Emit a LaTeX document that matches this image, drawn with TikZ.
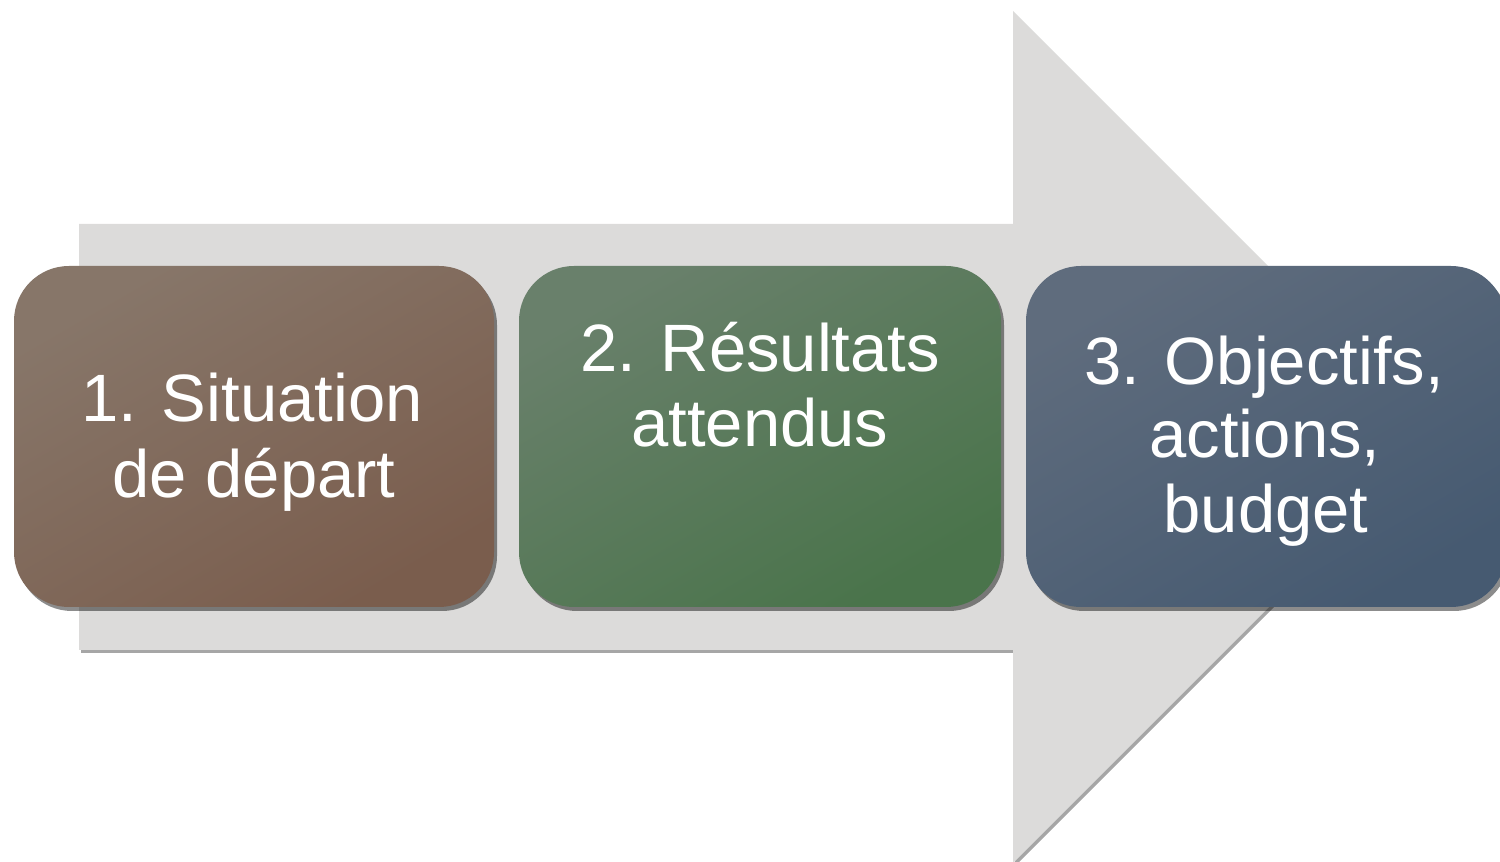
\documentclass[tikz,border=0pt]{standalone}
\usepackage{fontspec}
\setmainfont{Liberation Sans}
\usetikzlibrary{shadows}
\definecolor{arrowgray}{HTML}{DCDBDA}
\definecolor{brA}{HTML}{877669}
\definecolor{brB}{HTML}{7A5D4D}
\definecolor{grA}{HTML}{69806B}
\definecolor{grB}{HTML}{4A744B}
\definecolor{blA}{HTML}{5F6C7D}
\definecolor{blB}{HTML}{465A71}
\tikzset{
  stepbox/.style={rounded corners=55pt, inner sep=0pt,
    drop shadow={shadow xshift=3pt, shadow yshift=-4pt, opacity=0.45, fill=black}},
  lbl/.style={text=white, font=\fontsize{67}{76}\selectfont, anchor=base, inner sep=0pt},
  bigarrow/.style={fill=arrowgray,
    drop shadow={shadow xshift=2pt, shadow yshift=-3pt, opacity=0.35, fill=black}}
}
\begin{document}
\begin{tikzpicture}[x=1pt,y=1pt]
\useasboundingbox (0,0) rectangle (1500,862);
\clip (0,0) rectangle (1500,862);
% big arrow
\path[bigarrow] (79,638) -- (1013,638) -- (1013,851) -- (1439,425) -- (1013,-1) -- (1013,212) -- (79,212) -- cycle;
% boxes
\node[stepbox, top color=brA, middle color=brA!85!brB, bottom color=brB, shading angle=30, minimum width=480pt, minimum height=341pt] (b1) at (254,425.5) {};
\node[stepbox, top color=grA, middle color=grA!85!grB, bottom color=grB, shading angle=30, minimum width=482pt, minimum height=341pt] (b2) at (760,425.5) {};
\node[stepbox, top color=blA, middle color=blA!85!blB, bottom color=blB, shading angle=30, minimum width=480pt, minimum height=341pt] (b3) at (1266,425.5) {};
% texts
\node[lbl] (t1a) at (252,440) {1. Situation};
\node[lbl] (t1b) at (254,364) {de départ};
\node[lbl] (t2a) at (760,490) {2. Résultats};
\node[lbl] (t2b) at (760,415) {attendus};
\node[lbl] (t3a) at (1264,477) {3. Objectifs,};
\node[lbl] (t3b) at (1265,404) {actions,};
\node[lbl] (t3c) at (1266,329) {budget};
\end{tikzpicture}
\end{document}
